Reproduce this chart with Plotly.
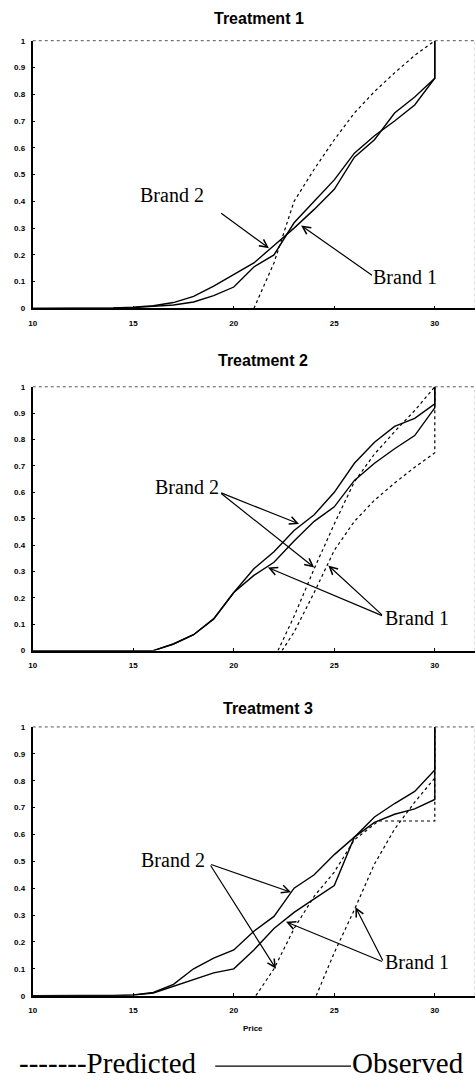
import plotly.graph_objects as go

# ---------------- data: cumulative share vs. price ----------------
# Treatment 1
t1_price = [10, 11, 12, 13, 14, 15, 16, 17, 18, 19, 20, 21, 22, 23, 24, 25, 26, 27, 28, 29, 30, 30]
t1_obs_b1 = [0, 0, 0, 0, 0.001, 0.003, 0.007, 0.013, 0.024, 0.048, 0.08, 0.155, 0.20, 0.32, 0.40, 0.48, 0.58, 0.645, 0.70, 0.76, 0.86, 1.0]
t1_obs_b2 = [0, 0, 0, 0, 0.002, 0.005, 0.010, 0.022, 0.045, 0.083, 0.125, 0.17, 0.235, 0.30, 0.37, 0.445, 0.565, 0.63, 0.73, 0.79, 0.86, 1.0]
t1_pred_price = [21, 22, 23, 24, 25, 26, 27, 28, 29, 30]
t1_pred = [0, 0.17, 0.40, 0.52, 0.63, 0.73, 0.81, 0.88, 0.945, 1.0]

# Treatment 2
t2_price = [10, 11, 12, 13, 14, 15, 16, 17, 18, 19, 20, 21, 22, 23, 24, 25, 26, 27, 28, 29, 30, 30]
t2_obs_b1 = [0, 0, 0, 0, 0, 0, 0, 0.025, 0.06, 0.12, 0.22, 0.285, 0.335, 0.415, 0.49, 0.545, 0.645, 0.71, 0.765, 0.815, 0.92, 1.0]
t2_obs_b2 = [0, 0, 0, 0, 0, 0, 0, 0.025, 0.06, 0.12, 0.22, 0.31, 0.375, 0.455, 0.515, 0.60, 0.71, 0.79, 0.85, 0.88, 0.935, 1.0]
t2_pred_b1_price = [22.4, 23, 24, 25, 26, 27, 28, 29, 30, 30]
t2_pred_b1 = [0, 0.07, 0.22, 0.38, 0.49, 0.57, 0.635, 0.695, 0.75, 1.0]
t2_pred_b2_price = [22.2, 23, 24, 25, 26, 27, 28, 29, 30]
t2_pred_b2 = [0, 0.13, 0.31, 0.48, 0.64, 0.745, 0.83, 0.91, 1.0]

# Treatment 3
t3_price = [10, 11, 12, 13, 14, 15, 16, 17, 18, 19, 20, 21, 22, 23, 24, 25, 26, 27, 28, 29, 30, 30]
t3_obs_b1 = [0, 0, 0, 0, 0, 0.002, 0.010, 0.035, 0.06, 0.085, 0.10, 0.17, 0.25, 0.31, 0.36, 0.41, 0.59, 0.665, 0.715, 0.76, 0.84, 1.0]
t3_obs_b2 = [0, 0, 0, 0, 0, 0.003, 0.012, 0.042, 0.10, 0.14, 0.17, 0.24, 0.295, 0.40, 0.45, 0.525, 0.59, 0.645, 0.675, 0.695, 0.73, 1.0]
t3_pred_b1_price = [24.1, 25, 26, 27, 28, 29, 30]
t3_pred_b1 = [0, 0.16, 0.32, 0.49, 0.62, 0.72, 0.81]
t3_pred_b2_price = [21.1, 22, 23, 24, 25, 26, 27.2, 30, 30]
t3_pred_b2 = [0, 0.10, 0.25, 0.37, 0.46, 0.58, 0.65, 0.65, 1.0]

titles = ["Treatment 1", "Treatment 2", "Treatment 3"]
x_ticks = [10, 15, 20, 25, 30]
y_ticks = [0, 0.1, 0.2, 0.3, 0.4, 0.5, 0.6, 0.7, 0.8, 0.9, 1]
y_ticktext = ["0", "0.1", "0.2", "0.3", "0.4", "0.5", "0.6", "0.7", "0.8", "0.9", "1"]

# ---------------- layout helpers ----------------
W, H = 475, 1083


def py(p):
    return 1 - p / H


x_dom = [29 / W, 1.0]
# (bottom, top) pixel rows of each panel
panel_rows = [(307, 37), (652, 386), (1000, 729)]

SOLID = dict(color="black", width=1.4)
DASH = dict(color="black", width=1.2, dash="3px,3px")

fig = go.Figure()

panels = [
    [(t1_price, t1_obs_b1, SOLID), (t1_price, t1_obs_b2, SOLID), (t1_pred_price, t1_pred, DASH)],
    [(t2_price, t2_obs_b1, SOLID), (t2_price, t2_obs_b2, SOLID),
     (t2_pred_b1_price, t2_pred_b1, DASH), (t2_pred_b2_price, t2_pred_b2, DASH)],
    [(t3_price, t3_obs_b1, SOLID), (t3_price, t3_obs_b2, SOLID),
     (t3_pred_b1_price, t3_pred_b1, DASH), (t3_pred_b2_price, t3_pred_b2, DASH)],
]

for i, series in enumerate(panels):
    sfx = "" if i == 0 else str(i + 1)
    for xs, ys, ln in series:
        fig.add_trace(go.Scatter(x=xs, y=ys, mode="lines", line=ln,
                                 xaxis="x" + sfx, yaxis="y" + sfx,
                                 showlegend=False, hoverinfo="skip"))

tickfont = dict(family="Liberation Sans, Arial", size=8, color="black", weight="bold")
layout = dict(width=W, height=H, margin=dict(l=0, r=0, t=0, b=0),
              paper_bgcolor="white", plot_bgcolor="white", showlegend=False)

for i, (bot, top) in enumerate(panel_rows):
    sfx = "" if i == 0 else str(i + 1)
    layout["xaxis" + sfx] = dict(
        domain=x_dom, range=[10, 32], anchor="y" + sfx,
        tickvals=x_ticks, ticks="inside", ticklen=3, tickcolor="black",
        showline=True, linecolor="black", linewidth=1.5,
        showgrid=False, zeroline=False, tickfont=tickfont, ticklabelstandoff=6,
    )
    layout["yaxis" + sfx] = dict(
        domain=[py(bot), py(top)], range=[0, 1], anchor="x" + sfx,
        tickvals=y_ticks, ticktext=y_ticktext, ticks="inside", ticklen=2, tickcolor="black",
        showline=True, linecolor="black", linewidth=2,
        showgrid=False, zeroline=False, tickfont=tickfont, ticklabelstandoff=4,
    )

fig.update_layout(**layout)

# dotted frame on top and right of each panel
for i in range(3):
    sfx = "" if i == 0 else str(i + 1)
    fr = dict(xref="x" + sfx + " domain", yref="y" + sfx + " domain")
    fig.add_shape(type="line", x0=0, x1=1, y0=1, y1=1,
                  line=dict(color="#555", width=1, dash="dot"), **fr)
    fig.add_shape(type="line", x0=1, x1=1, y0=0, y1=1,
                  line=dict(color="#bbb", width=1, dash="dot"), **fr)

# panel titles
title_pos = [(257, 15), (261.5, 359), (266, 710)]
for t, (px, pyy) in zip(titles, title_pos):
    fig.add_annotation(text=t, x=px / W, y=py(pyy), xref="paper", yref="paper",
                       showarrow=False, xanchor="center", yanchor="middle",
                       font=dict(family="Liberation Sans, Arial", size=16, color="black", weight="bold"))

# x-axis title of the bottom panel
fig.add_annotation(text="Price", x=251 / W, y=py(1033), xref="paper", yref="paper",
                   showarrow=False, xanchor="center", yanchor="middle",
                   font=dict(family="Liberation Sans, Arial", size=8, color="black", weight="bold"))

# brand labels with pointer arrows
serif = dict(family="Liberation Serif, Times New Roman", size=20, color="black")
callouts = [
    # panel, label, text position, arrow tail, arrow heads
    (0, "Brand 2", (16.95, 0.425), (19.3, 0.36), [(21.75, 0.225)]),
    (0, "Brand 1", (28.5, 0.118), (26.95, 0.12), [(23.35, 0.31)]),
    (1, "Brand 2", (17.68, 0.62), (19.3, 0.60), [(23.25, 0.48), (24.0, 0.315)]),
    (1, "Brand 1", (29.1, 0.124), (27.45, 0.13), [(21.7, 0.315), (24.7, 0.323)]),
    (2, "Brand 2", (17.0, 0.505), (18.8, 0.49), [(22.85, 0.385), (22.1, 0.10)]),
    (2, "Brand 1", (29.1, 0.125), (27.45, 0.125), [(22.6, 0.275), (26.05, 0.33)]),
]
for i, label, (tx, ty), (ax, ay), heads in callouts:
    sfx = "" if i == 0 else str(i + 1)
    xr, yr = "x" + sfx, "y" + sfx
    fig.add_annotation(text=label, x=tx, y=ty, xref=xr, yref=yr, showarrow=False,
                       xanchor="center", yanchor="middle", font=serif)
    for hx, hy in heads:
        fig.add_annotation(text="", x=hx, y=hy, ax=ax, ay=ay, xref=xr, yref=yr,
                           axref=xr, ayref=yr, showarrow=True, arrowhead=5,
                           arrowsize=1.3, arrowwidth=1.2, arrowcolor="black",
                           standoff=0, startstandoff=0)

# line-style key at the bottom
key_font = dict(family="Liberation Serif, Times New Roman", size=29, color="black")
fig.add_annotation(text="-------Predicted", x=13 / W, y=py(1068), xref="paper", yref="paper",
                   showarrow=False, xanchor="left", yanchor="middle", font=key_font)
fig.add_annotation(text="Observed", x=466 / W, y=py(1068), xref="paper", yref="paper",
                   showarrow=False, xanchor="right", yanchor="middle", font=key_font)
fig.add_shape(type="line", xref="paper", yref="paper", x0=213 / W, x1=350 / W,
              y0=py(1071), y1=py(1071), line=dict(color="black", width=1.2))

fig.write_html("out.html")
